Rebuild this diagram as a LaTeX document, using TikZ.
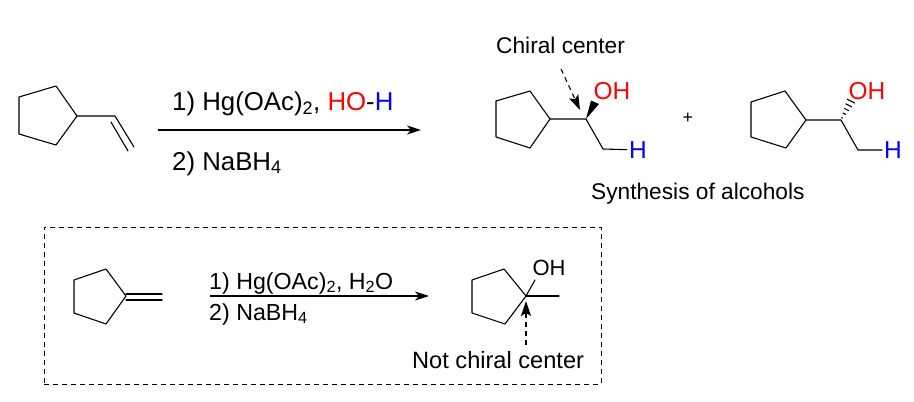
\documentclass[tikz,border=0pt]{standalone}
\usepackage{fontspec}
\setmainfont{Liberation Sans}
\usetikzlibrary{arrows.meta,calc}

\begin{document}
\begin{tikzpicture}[x=1pt, y=-1pt, >={Stealth[length=14pt,width=9pt,inset=4pt]},
        bond/.style = {line width=1.1pt, line join=round, line cap=round},
        rxn/.style = {->, line width=1.6pt},
        note/.style = {-{Stealth[length=15pt,width=10pt,inset=3pt]}, line width=1.1pt, dash pattern=on 5pt off 4pt},
        big/.style = {anchor=base west, inner sep=0pt, font=\fontsize{22.7}{26}\selectfont},
        cond/.style = {anchor=base west, inner sep=0pt, font=\fontsize{25.8}{30}\selectfont},
        small/.style = {anchor=base west, inner sep=0pt, font=\fontsize{23.2}{27}\selectfont},
        atom/.style = {inner sep=2pt, font=\fontsize{24.5}{28}\selectfont},
        atomsm/.style = {inner sep=0pt, font=\fontsize{22}{26}\selectfont}]
        \useasboundingbox (0,0) rectangle (914,402);

        % starting alkene
        \coordinate (A1) at (56,86);
        \coordinate (A2) at (19,97);
        \coordinate (A3) at (19,134);
        \coordinate (A4) at (56,145);
        \coordinate (A5) at (77,116);
        \coordinate (A6) at (115,116);
        \coordinate (A7) at (134,147);
        \coordinate (A8) at (111,122);
        \coordinate (A9) at (128,151);
        \draw[bond] (A1) -- (A2) -- (A3) -- (A4) -- (A5) -- cycle;
        \draw[bond] (A5) -- (A6) -- (A7);
        \draw[bond] (A8) -- (A9);

        % top reaction
        \coordinate (R1) at (158,130);
        \coordinate (R2) at (421,130);
        \draw[rxn] (R1) -- (R2);
        \node[cond] (cond1) at (172,110) {1) Hg(OAc)\textsubscript{2}, {\color{red}HO}-{\color{blue}H}};
        \node[cond] (cond2) at (172,170) {2) NaBH\textsubscript{4}};

        % first product
        \coordinate (B1) at (530,91);
        \coordinate (B2) at (496,101);
        \coordinate (B3) at (496,137);
        \coordinate (B4) at (530,148);
        \coordinate (B5) at (550,119);
        \coordinate (B6) at (586,119);
        \coordinate (B7) at (603,149);
        \node[atom, text=blue] (BH) at (638,150) {H};
        \node[atom, text=red] (BO) at (612,91) {OH};
        \draw[bond] (B1) -- (B2) -- (B3) -- (B4) -- (B5) -- cycle;
        \draw[bond] (B5) -- (B6) -- (B7) -- (BH);
        \coordinate (W1) at (591,100.5);
        \coordinate (W2) at (599,104);
        \fill (B6) -- (W1) -- (W2) -- cycle;
        \node[big] (chiral) at (496,53) {Chiral center};
        \coordinate (C1) at (561,69);
        \coordinate (C2) at (580,110);
        \draw[note] (C1) -- (C2);

        \node[inner sep=0pt, font=\fontsize{18}{20}\selectfont] (plus) at (688,118) {+};

        % second product
        \coordinate (D1) at (785,91);
        \coordinate (D2) at (751,102);
        \coordinate (D3) at (751,137);
        \coordinate (D4) at (786,148);
        \coordinate (D5) at (806,120);
        \coordinate (D6) at (841,120);
        \coordinate (D7) at (858,150);
        \coordinate (D8) at (852,99);
        \node[atom, text=blue] (DH) at (893,150) {H};
        \node[atom, text=red] (DO) at (867,91) {OH};
        \draw[bond] (D1) -- (D2) -- (D3) -- (D4) -- (D5) -- cycle;
        \draw[bond] (D5) -- (D6) -- (D7) -- (DH);
        \foreach \t/\w in {0.1/0.7, 0.3/1.5, 0.5/2.3, 0.7/3.1, 0.9/3.9}
            \draw[line width=1.1pt] ($(D6)!\t!(D8)+(-\w,-\w*0.5)$) -- ($(D6)!\t!(D8)+(\w,\w*0.5)$);

        \node[big] (title) at (591,199) {Synthesis of alcohols};

        % dashed box
        \node[draw, line width=1pt, dash pattern=on 5pt off 4pt, inner sep=0pt,
            minimum width=557pt, minimum height=157pt] (frame) at (322.5,305.5) {};

        \coordinate (E1) at (106,269);
        \coordinate (E2) at (74,280);
        \coordinate (E3) at (74,313);
        \coordinate (E4) at (106,324);
        \coordinate (E5) at (126,296);
        \coordinate (E6) at (126,294);
        \coordinate (E7) at (162,294);
        \coordinate (E8) at (126,300);
        \coordinate (E9) at (162,300);
        \draw[bond] (E1) -- (E2) -- (E3) -- (E4) -- (E5) -- cycle;
        \draw[bond] (E6) -- (E7);
        \draw[bond] (E8) -- (E9);

        % lower reaction
        \coordinate (S1) at (210,296);
        \coordinate (S2) at (429,296);
        \draw[rxn, line width=1.2pt] (S1) -- (S2);
        \node[small] (cond3) at (209,289) {1) Hg(OAc)\textsubscript{2}, H\textsubscript{2}O};
        \node[small] (cond4) at (209,320) {2) NaBH\textsubscript{4}};

        % tertiary alcohol
        \coordinate (F1) at (504,269);
        \coordinate (F2) at (472,280);
        \coordinate (F3) at (472,313);
        \coordinate (F4) at (505,324);
        \coordinate (F5) at (526,296);
        \coordinate (F6) at (559,296);
        \coordinate (F7) at (535,280);
        \node[atomsm] (FO) at (549,268) {OH};
        \draw[bond] (F1) -- (F2) -- (F3) -- (F4) -- (F5) -- cycle;
        \draw[bond] (F5) -- (F6);
        \draw[bond] (F5) -- (F7);
        \node[big, font=\fontsize{23.6}{27}\selectfont] (notchiral) at (412,368) {Not chiral center};
        \coordinate (G1) at (526,345);
        \coordinate (G2) at (526,301);
        \draw[note] (G1) -- (G2);
    \end{tikzpicture}
\end{document}
